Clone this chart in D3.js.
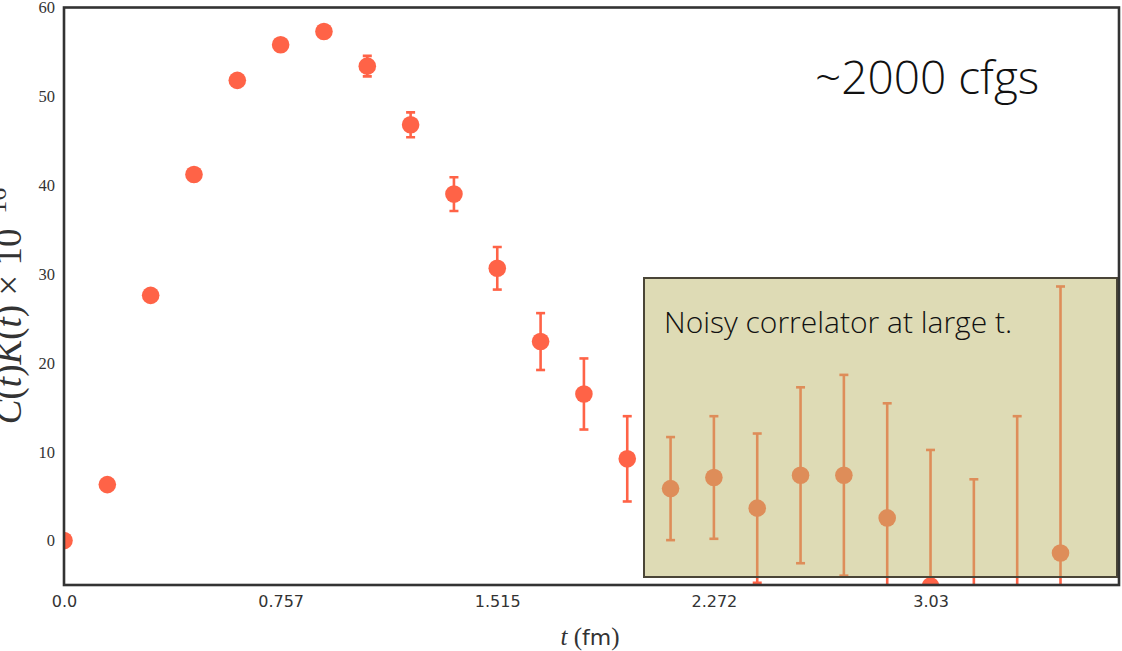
<!DOCTYPE html>
<html>
<head>
<meta charset="utf-8">
<script src="https://cdn.jsdelivr.net/npm/d3@7"></script>
<style>
  html, body { margin: 0; padding: 0; background: #fff; }
  svg { display: block; }
</style>
</head>
<body>
<svg id="chart" width="1122" height="651"></svg>
<script>
// Euclidean time steps n (t = n·a, a ≈ 0.1515 fm)
const steps = [0, 1, 2, 3, 4, 5, 6, 7, 8, 9, 10, 11, 12, 13, 14, 15, 16, 17, 18, 19, 20, 21, 22, 23];
// C(t)K(t) in units of 10^-16
const corrValues = [0.0, 6.3, 27.6, 41.2, 51.8, 55.8, 57.3, 53.4, 46.8, 39.0, 30.65, 22.4,
                    16.5, 9.2, 5.85, 7.1, 3.65, 7.35, 7.35, 2.55, -5.1, -12.1, -10.0, -1.4];
const corrErrors = [0.05, 0.1, 0.15, 0.2, 0.3, 0.4, 0.6, 1.15, 1.4, 1.9, 2.4, 3.2,
                    4.0, 4.8, 5.8, 6.9, 8.4, 9.9, 11.3, 12.9, 15.3, 19.0, 24.0, 30.0];
// x ticks at every fifth step, labelled in fm
const xTickSteps = [0, 5, 10, 15, 20];
const xTickLabels = ["0.0", "0.757", "1.515", "2.272", "3.03"];
const yTicks = [0, 10, 20, 30, 40, 50, 60];

const svg = d3.select("#chart");
const plot = { left: 64, top: 7.5, right: 1119, bottom: 585 };

const x = d3.scaleLinear().domain([0, 24.35]).range([plot.left, plot.right]);
const y = d3.scaleLinear().domain([-5, 60]).range([plot.bottom, plot.top]);

const pointColor = "#ff6347";

// clip for marks inside the axes
svg.append("defs").append("clipPath").attr("id", "axesClip")
  .append("rect")
  .attr("x", plot.left).attr("y", plot.top)
  .attr("width", plot.right - plot.left).attr("height", plot.bottom - plot.top);

const marks = svg.append("g").attr("clip-path", "url(#axesClip)");

const data = steps.map((s, i) => ({ s, v: corrValues[i], e: corrErrors[i] }));

// error bars
const eb = marks.append("g").attr("stroke", pointColor).attr("stroke-width", 2.6);
eb.selectAll("line.bar").data(data).join("line")
  .attr("class", "bar")
  .attr("x1", d => x(d.s)).attr("x2", d => x(d.s))
  .attr("y1", d => y(d.v - d.e)).attr("y2", d => y(d.v + d.e));
const capW = 4.5;
eb.selectAll("line.capTop").data(data).join("line")
  .attr("class", "capTop")
  .attr("x1", d => x(d.s) - capW).attr("x2", d => x(d.s) + capW)
  .attr("y1", d => y(d.v + d.e)).attr("y2", d => y(d.v + d.e));
eb.selectAll("line.capBot").data(data).join("line")
  .attr("class", "capBot")
  .attr("x1", d => x(d.s) - capW).attr("x2", d => x(d.s) + capW)
  .attr("y1", d => y(d.v - d.e)).attr("y2", d => y(d.v - d.e));

// points
marks.append("g").selectAll("circle").data(data).join("circle")
  .attr("cx", d => x(d.s)).attr("cy", d => y(d.v))
  .attr("r", 8.8).attr("fill", pointColor);

// annotation box (semi-transparent, over the points)
const box = { x: 644, y: 278, w: 473, h: 299 };
svg.append("rect")
  .attr("x", box.x).attr("y", box.y).attr("width", box.w).attr("height", box.h)
  .attr("fill", "#bdb76b").attr("fill-opacity", 0.5)
  .attr("stroke", "#4a4537").attr("stroke-width", 2);
svg.append("text")
  .attr("x", 664).attr("y", 333)
  .attr("font-family", "'Open Sans', sans-serif")
  .attr("font-weight", 300)
  .attr("font-size", 30)
  .attr("fill", "#111")
  .text("Noisy correlator at large t.");

svg.append("text")
  .attr("x", 815).attr("y", 94)
  .attr("font-family", "'Open Sans', sans-serif")
  .attr("font-weight", 300)
  .attr("font-size", 46)
  .attr("fill", "#111")
  .text("~2000 cfgs");

// frame
svg.append("rect")
  .attr("x", plot.left).attr("y", plot.top)
  .attr("width", plot.right - plot.left).attr("height", plot.bottom - plot.top)
  .attr("fill", "none").attr("stroke", "#333").attr("stroke-width", 2.6);

// x tick labels
const xAxis = d3.axisBottom(x).tickValues(xTickSteps)
  .tickFormat((d, i) => xTickLabels[i]).tickSize(0).tickPadding(11);
const gx = svg.append("g").attr("transform", `translate(0,${plot.bottom})`).call(xAxis);
gx.select(".domain").remove();
gx.selectAll("text")
  .attr("font-family", "'DejaVu Sans', sans-serif").attr("font-size", 16).attr("fill", "#333");

// y tick labels
const yAxis = d3.axisLeft(y).tickValues(yTicks).tickSize(0).tickPadding(9);
const gy = svg.append("g").attr("transform", `translate(${plot.left},0)`).call(yAxis);
gy.select(".domain").remove();
gy.selectAll("text")
  .attr("font-family", "'Liberation Serif', serif").attr("font-size", 16.5).attr("fill", "#333");

// x axis label: t (fm)
const xl = svg.append("text")
  .attr("x", 590).attr("y", 645).attr("text-anchor", "middle")
  .attr("fill", "#333").attr("font-size", 25);
xl.append("tspan").attr("font-family", "'Liberation Serif', serif").attr("font-style", "italic").text("t");
xl.append("tspan").attr("font-family", "'Liberation Serif', serif").text(" (");
xl.append("tspan").attr("font-family", "'DejaVu Sans', sans-serif").attr("font-size", 22).text("fm");
xl.append("tspan").attr("font-family", "'Liberation Serif', serif").text(")");

// y axis label: C(t)K(t) × 10^-16
const yl = svg.append("text")
  .attr("transform", "translate(21,306) rotate(-90)")
  .attr("text-anchor", "middle")
  .attr("font-family", "'Liberation Serif', serif")
  .attr("font-size", 37).attr("fill", "#333");
const parts = [["C", true], ["(", false], ["t", true], [")", false], ["K", true], ["(", false], ["t", true], [")", false], [" × 10", false]];
parts.forEach(([s, it]) => yl.append("tspan").attr("font-style", it ? "italic" : "normal").text(s));
yl.append("tspan").attr("font-size", 26).attr("dy", -15).text("−16");
</script>
</body>
</html>
